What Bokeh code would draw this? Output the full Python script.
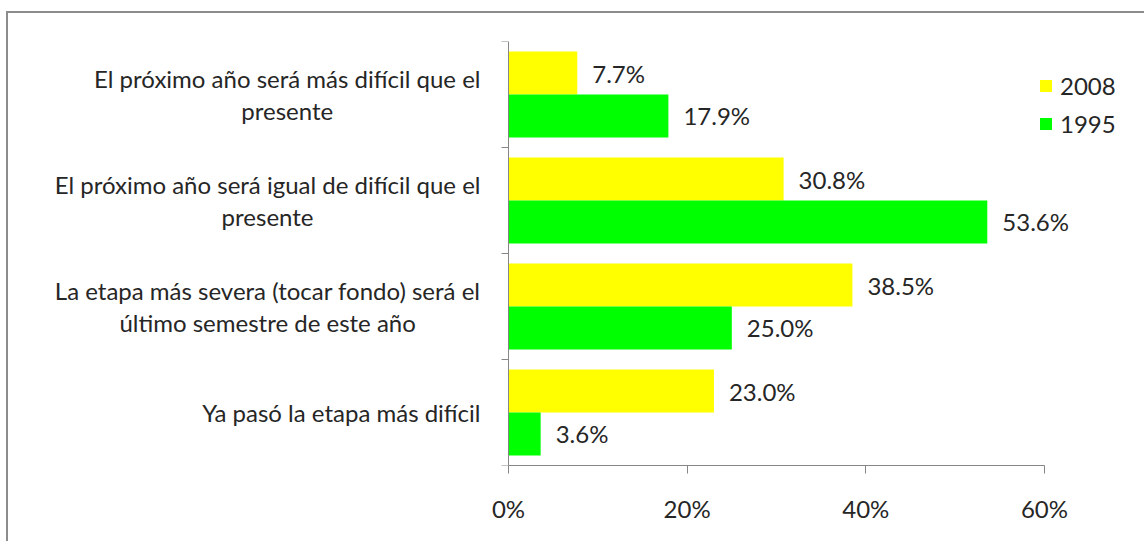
from bokeh.plotting import figure
from bokeh.models import ColumnDataSource, FixedTicker, Range1d, Legend, LegendItem
from bokeh.transform import dodge
from bokeh.core.properties import value
from bokeh.embed import file_html
from bokeh.resources import INLINE

categories = [
    "El próximo año será más difícil que el\npresente",
    "El próximo año será igual de difícil que el\npresente",
    "La etapa más severa (tocar fondo) será el\núltimo semestre de este año",
    "Ya pasó la etapa más difícil",
]
series_names = ["2008", "1995"]
values_2008 = [7.7, 30.8, 38.5, 23.0]
values_1995 = [17.9, 53.6, 25.0, 3.6]
x_ticks = [0, 20, 40, 60]
x_tick_labels = ["0%", "20%", "40%", "60%"]

FONT = "Lato"
FS = "24px"
TEXT_COLOR = "#262626"
AXIS_COLOR = "#868686"

n = len(categories)
ys = [n - i - 0.5 for i in range(n)]
boundaries = list(range(n + 1))

src = ColumnDataSource(dict(
    y=ys,
    cat=categories,
    v2008=values_2008,
    v1995=values_1995,
    l2008=[f"{v:.1f}%" for v in values_2008],
    l1995=[f"{v:.1f}%" for v in values_1995],
))

p = figure(width=1138, height=530, output_backend="svg", toolbar_location=None,
           x_range=Range1d(-53.73, 70.75), y_range=Range1d(0, n),
           min_border_left=20, min_border_right=6, min_border_top=28, min_border_bottom=78)
p.styles = {"border-left": "2px solid #8c8c8c", "border-top": "2px solid #8c8c8c",
            "margin-left": "6px", "margin-top": "11px"}
p.outline_line_color = None
p.grid.visible = False
p.background_fill_color = "white"
p.border_fill_color = "white"

off = 0.2025
h = 0.405
r1 = p.hbar(y=dodge("y", off, range=p.y_range), left=0, right="v2008", height=h,
            fill_color="#FFFF00", line_color=None, source=src)
r2 = p.hbar(y=dodge("y", -off, range=p.y_range), left=0, right="v1995", height=h,
            fill_color="#00FF00", line_color=None, source=src)

p.text(x="v2008", y=dodge("y", off, range=p.y_range), text="l2008", source=src,
       x_offset=15, text_baseline="middle", text_align="left",
       text_font=value(FONT), text_font_size=FS, text_color=TEXT_COLOR)
p.text(x="v1995", y=dodge("y", -off, range=p.y_range), text="l1995", source=src,
       x_offset=15, text_baseline="middle", text_align="left",
       text_font=value(FONT), text_font_size=FS, text_color=TEXT_COLOR)

# category labels: block right-aligned next to the axis, lines centered
p.text(x=0, y="y", text="cat", source=src, x_offset=-28,
       anchor="center_right", text_align="center", text_baseline="middle",
       text_font=value(FONT), text_font_size=FS, text_color=TEXT_COLOR,
       text_line_height=1.1)

# x axis
xa = p.xaxis[0]
xa.ticker = FixedTicker(ticks=x_ticks)
xa.major_label_overrides = {t: l for t, l in zip(x_ticks, x_tick_labels)}
xa.bounds = (0, 60)
xa.axis_line_color = AXIS_COLOR
xa.major_tick_line_color = AXIS_COLOR
xa.major_tick_in = 0
xa.major_tick_out = 8
xa.minor_tick_line_color = None
xa.major_label_standoff = 20
xa.major_label_text_font = FONT
xa.major_label_text_font_size = FS
xa.major_label_text_color = TEXT_COLOR

# y axis at x = 0 with ticks at the category boundaries
ya = p.yaxis[0]
ya.fixed_location = 0
ya.ticker = FixedTicker(ticks=[], minor_ticks=boundaries)
ya.axis_line_color = AXIS_COLOR
ya.major_tick_line_color = None
ya.minor_tick_line_color = AXIS_COLOR
ya.minor_tick_in = 0
ya.minor_tick_out = 7

legend = Legend(items=[LegendItem(label=series_names[0], renderers=[r1]),
                       LegendItem(label=series_names[1], renderers=[r2])],
                location=(1010, 327))
legend.border_line_color = None
legend.background_fill_alpha = 0
legend.padding = 0
legend.margin = 0
legend.spacing = 9
legend.glyph_width = 15
legend.glyph_height = 15
legend.label_standoff = 7
legend.label_text_font = FONT
legend.label_text_font_size = FS
legend.label_text_color = TEXT_COLOR
p.add_layout(legend, "center")

open("out.html", "w").write(file_html(p, INLINE))
